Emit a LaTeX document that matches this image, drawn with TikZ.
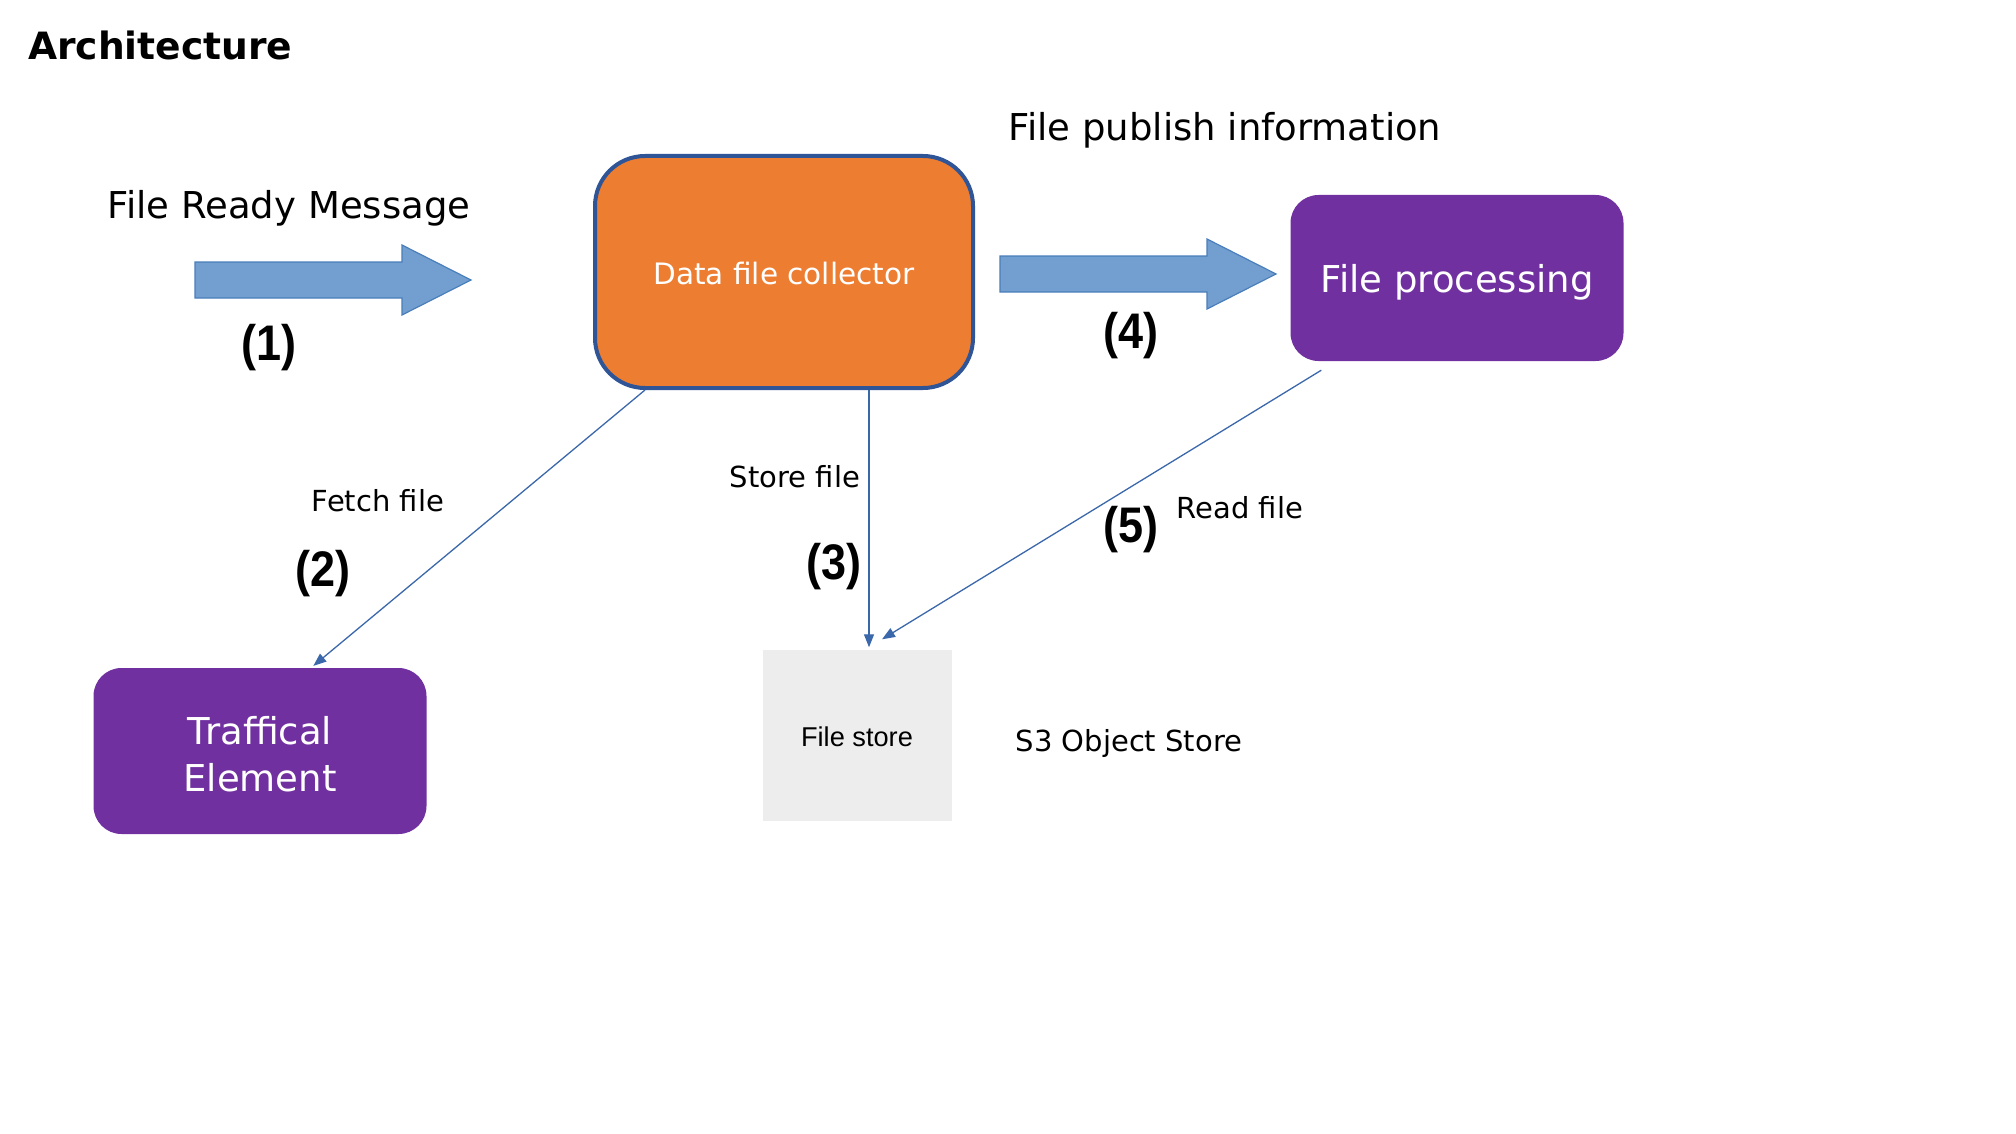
\documentclass[tikz,border=0pt]{standalone}
\usepackage{fontspec}
\setmainfont{DejaVu Sans}
\newfontfamily\arialfont{Liberation Sans}
\newfontfamily\stepfont[FakeStretch=0.9]{Liberation Sans}
\usetikzlibrary{arrows.meta}

\definecolor{collorange}{RGB}{237,125,49}
\definecolor{collborder}{RGB}{47,85,151}
\definecolor{procpurple}{RGB}{112,48,160}
\definecolor{arrowfill}{RGB}{114,159,207}
\definecolor{arrowdraw}{RGB}{74,126,187}
\definecolor{linkblue}{RGB}{59,103,171}
\definecolor{storegray}{RGB}{237,237,237}

\tikzset{
  bigarrow/.style={fill=arrowfill, draw=arrowdraw, line width=1.2pt},
  link/.style={draw=linkblue, line width=1.3pt, -{Triangle[length=13pt,width=10pt]}},
  purplebox/.style={fill=procpurple, rounded corners=28pt, minimum width=333pt,
    minimum height=166pt, inner sep=0pt, text=white, align=center,
    font=\fontsize{37}{47}\selectfont},
  steplabel/.style={font=\stepfont\bfseries\fontsize{50}{50}\selectfont},
  smalllabel/.style={font=\fontsize{29}{35}\selectfont},
  biglabel/.style={font=\fontsize{37}{44}\selectfont}
}

\begin{document}
\begin{tikzpicture}[x=1pt, y=-1pt]

        \useasboundingbox (0,0) rectangle (2016,1134);

        % Titolo
        \node[anchor=west, inner sep=0pt, font=\bfseries\fontsize{37.6}{44}\selectfont]
            (title) at (28,45) {Architecture};

        % Blocchi
        \node[fill=collorange, draw=collborder, line width=4pt, rounded corners=50pt,
              minimum width=378pt, minimum height=232pt, inner sep=0pt, text=white,
              font=\fontsize{29.5}{35}\selectfont]
            (collector) at (784,272) {};
        \node[text=white, font=\fontsize{29.5}{35}\selectfont] (colltext) at (784,274) {Data file collector};
        \node[purplebox] (proc) at (1457,278) {};
        \node[text=white, font=\fontsize{37}{47}\selectfont] (proctext) at (1457,282) {File processing};
        \node[purplebox] (traffical) at (260,751) {};
        \node[text=white, align=center, font=\fontsize{37}{47}\selectfont] (traftext) at (260,754) {Traffical\\Element};
        \node[fill=storegray, minimum width=189pt, minimum height=171pt, inner sep=0pt] (store) at (857,735) {};
        \node[font=\arialfont\fontsize{27.2}{32}\selectfont] (storetext) at (857,737) {File store};

        % Frecce grandi (1) e (4)
        \foreach \ax/\ay in {195/280, 1000/274}
            \draw[bigarrow] (\ax,\ay-18) -- ++(207,0) -- ++(0,-17) -- (\ax+276,\ay)
                -- (\ax+207,\ay+35) -- ++(0,-17) -- (\ax,\ay+18) -- cycle;

        % Collegamenti
        \coordinate (storein) at ([xshift=12pt]store.north);
        \draw[link, shorten >=3pt] ([xshift=52pt]collector.south west) -- ([xshift=51pt]traffical.north);
        \draw[link, shorten >=2pt] (storein |- collector.south) -- (storein);
        \draw[link] ([xshift=31pt,yshift=-9pt]proc.south west) -- ([xshift=25pt,yshift=10pt]store.north);

        % Etichette
        \node[biglabel] (readymsg) at (289,208) {File Ready Message};
        \node[biglabel] (publish) at (1225,130) {File publish information};
        \node[smalllabel] (fetch) at (378,501) {Fetch file};
        \node[smalllabel] (storelbl) at (795,477) {Store file};
        \node[smalllabel] (read) at (1240,508) {Read file};
        \node[smalllabel] (s3) at (1129,743) {S3 Object Store};

        % Passi
        \node[steplabel] (s1) at (269,348) {(1)};
        \node[steplabel] (s2) at (323,574) {(2)};
        \node[steplabel] (s3n) at (834,567) {(3)};
        \node[steplabel] (s4) at (1131,336) {(4)};
        \node[steplabel] (s5) at (1131,530) {(5)};
    \end{tikzpicture}
\end{document}
